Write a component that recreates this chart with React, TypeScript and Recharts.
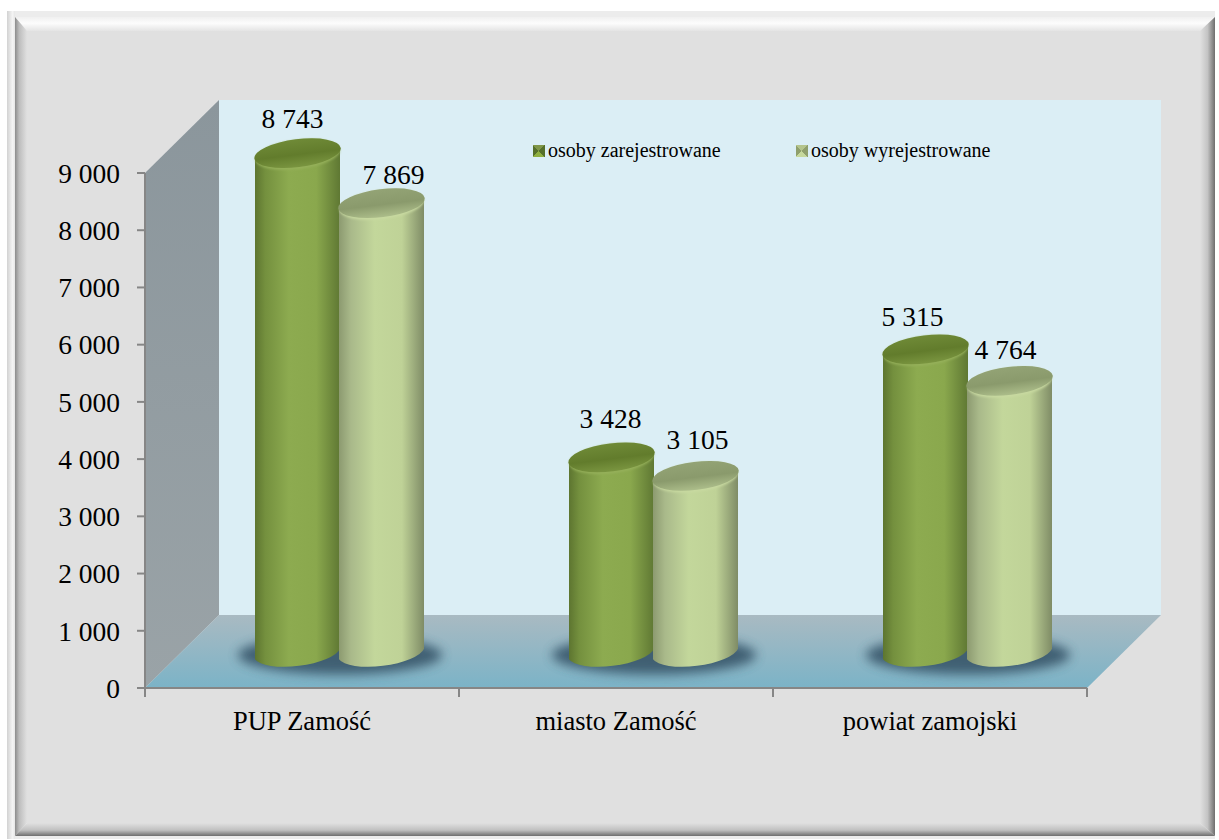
import { Bar, BarChart, LabelList, Legend, XAxis, YAxis } from "recharts";

const categories = ["PUP Zamość", "miasto Zamość", "powiat zamojski"];
const zarejestrowane = [8743, 3428, 5315];
const wyrejestrowane = [7869, 3105, 4764];
const yTicks = [0, 1000, 2000, 3000, 4000, 5000, 6000, 7000, 8000, 9000];

const rows = categories.map((name, i) => ({ name, zarejestrowane: zarejestrowane[i], wyrejestrowane: wyrejestrowane[i] }));

const FONT = "'Liberation Serif', 'Times New Roman', serif";
const AXIS = "#868686";
// plot box of the axis plane
const PLOT = { x: 145, y: 173, width: 942, height: 515 };
// how far the back wall sits behind the axis plane
const DEPTH_X = 74;
const DEPTH_Y = 73;
// the cylinders stand half way to the back wall
const MID_X = 37;
const MID_Y = 34;
const RY = 14.5;
const TILT = -7;

const fmt = (v: number) => String(v).replace(/\B(?=(\d{3})+$)/g, " ");

function Frame() {
  const { x, y, width, height } = PLOT;
  const bottom = y + height;
  const right = x + width;
  return (
    <svg width={1219} height={840} style={{ position: "absolute", left: 0, top: 0 }}>
      <defs>
        <linearGradient id="rimL" x1="0" y1="0" x2="1" y2="0">
          <stop offset="0" stopColor="#d2d2d2" />
          <stop offset="0.7" stopColor="#f4f4f4" />
          <stop offset="1" stopColor="#e6e6e6" />
        </linearGradient>
        <linearGradient id="bevT" x1="0" y1="0" x2="0" y2="1">
          <stop offset="0" stopColor="#f0f0f0" />
          <stop offset="0.45" stopColor="#fcfcfc" />
          <stop offset="1" stopColor="#e4e4e4" />
        </linearGradient>
        <linearGradient id="bevL" x1="0" y1="0" x2="1" y2="0">
          <stop offset="0" stopColor="#8c8c8c" />
          <stop offset="0.35" stopColor="#bdbdbd" />
          <stop offset="1" stopColor="#e0e0e0" />
        </linearGradient>
        <linearGradient id="bevR" x1="0" y1="0" x2="1" y2="0">
          <stop offset="0" stopColor="#e0e0e0" />
          <stop offset="0.5" stopColor="#c4c4c4" />
          <stop offset="1" stopColor="#6e6e6e" />
        </linearGradient>
        <linearGradient id="bevB" x1="0" y1="0" x2="0" y2="1">
          <stop offset="0" stopColor="#e0e0e0" />
          <stop offset="0.55" stopColor="#c0c0c0" />
          <stop offset="1" stopColor="#6e6e6e" />
        </linearGradient>
        <linearGradient id="sideWall" x1="0" y1="0" x2="0" y2="1">
          <stop offset="0" stopColor="#8b969c" />
          <stop offset="1" stopColor="#9aa3a7" />
        </linearGradient>
        <linearGradient id="floor" x1="0" y1="0" x2="0" y2="1">
          <stop offset="0" stopColor="#a9bac2" />
          <stop offset="1" stopColor="#7bb3c7" />
        </linearGradient>
      </defs>
      <rect x={7} y={11} width={1208} height={828} fill="#ececec" />
      <rect x={7} y={11} width={8} height={828} fill="url(#rimL)" />
      <polygon points="15,17 1215,17 1200,31 27,31" fill="url(#bevT)" />
      <polygon points="15,17 27,31 27,823 15,836" fill="url(#bevL)" />
      <polygon points="1215,17 1200,31 1200,823 1215,836" fill="url(#bevR)" />
      <polygon points="15,836 27,823 1200,823 1215,836" fill="url(#bevB)" />
      <rect x={27} y={31} width={1173} height={792} fill="#e0e0e0" />
      <rect x={x + DEPTH_X} y={y - DEPTH_Y} width={width} height={height} fill="#dbeef5" />
      <polygon
        points={`${x},${y} ${x + DEPTH_X},${y - DEPTH_Y} ${x + DEPTH_X},${bottom - DEPTH_Y} ${x},${bottom}`}
        fill="url(#sideWall)"
      />
      <polygon
        points={`${x},${bottom} ${x + DEPTH_X},${bottom - DEPTH_Y} ${right + DEPTH_X},${bottom - DEPTH_Y} ${right},${bottom}`}
        fill="url(#floor)"
      />
    </svg>
  );
}

// drawn as the first series' background so it lies under both cylinders
function PairShadow({ x, y, width, height }: any) {
  const cx = x + width + MID_X;
  const cy = y + height - MID_Y + 1;
  return <ellipse cx={cx} cy={cy} rx={width + 17} ry={RY + 5} fill="#37566b" opacity={0.9} filter="url(#soft)" />;
}

function Cylinder({ x, y, width, height, body, lid, rim }: any) {
  const rx = width / 2 + 1;
  const left = x + MID_X;
  const right = left + width;
  const top = y - MID_Y;
  const base = y + height - MID_Y;
  const cx = left + width / 2;
  const lift = (width / 2) * Math.tan((-TILT * Math.PI) / 180);
  const d = [
    `M${left},${top + lift}`,
    `L${left},${base + lift}`,
    `A${rx},${RY} ${TILT} 0 0 ${right},${base - lift}`,
    `L${right},${top - lift}`,
    `A${rx},${RY} ${TILT} 0 0 ${left},${top + lift}`,
    "Z",
  ].join(" ");
  return (
    <g>
      <path d={d} fill={`url(#${body})`} />
      <ellipse cx={cx} cy={top + 1} rx={rx - 1} ry={RY} transform={`rotate(${TILT} ${cx} ${top})`} fill={rim} filter="url(#rimSoft)" />
      <ellipse cx={cx} cy={top - 0.5} rx={rx} ry={RY - 0.5} transform={`rotate(${TILT} ${cx} ${top - 1})`} fill={`url(#${lid})`} />
    </g>
  );
}

const darkBar = (p: any) => <Cylinder {...p} body="darkBody" lid="darkLid" rim="#95b05a" />;
const lightBar = (p: any) => <Cylinder {...p} body="lightBody" lid="lightLid" rim="#c8d9a0" />;

// hand-placed labels in the original, pulled a little off the bar centres
const NUDGE_A = [[-5, -12], [-1, -16], [-13, -10]];
const NUDGE_B = [[12, -6], [2, -13], [-4, -8]];

function valueLabel(nudges: number[][]) {
  return ({ x, y, width, value, index }: any) => (
    <text
      x={x + MID_X + width / 2 + nudges[index][0]}
      y={y - MID_Y - 14 + nudges[index][1]}
      textAnchor="middle"
      fontFamily={FONT}
      fontSize={27.5}
      fill="#000"
    >
      {fmt(value)}
    </text>
  );
}

// tick marks fall on the category boundaries, labels between them
function CategoryTick({ x, y, payload, index }: any) {
  const step = PLOT.width / categories.length;
  const mark = (at: number) => <line x1={at} x2={at} y1={y - 8} y2={y + 1} stroke={AXIS} strokeWidth={2} />;
  return (
    <g>
      {mark(x - step / 2)}
      {index === categories.length - 1 && mark(x + step / 2)}
      <text x={x} y={y + 34} textAnchor="middle" fontFamily={FONT} fontSize={26.5} fill="#000">
        {payload.value}
      </text>
    </g>
  );
}

function LegendRow({ payload }: any) {
  return (
    <div style={{ position: "relative", height: 24, fontFamily: FONT, fontSize: 20, color: "#000", lineHeight: "24px" }}>
      {(payload || []).map((item: any, i: number) => (
        <div key={item.value} style={{ position: "absolute", left: i * 263, top: 0, whiteSpace: "nowrap" }}>
          <span
            style={{
              display: "inline-block",
              width: 12,
              height: 12,
              marginRight: 3,
              background:
                i === 0
                  ? "conic-gradient(from 45deg, #55702a 0 25%, #8fb040 0 50%, #55702a 0 75%, #7f9648 0)"
                  : "conic-gradient(from 45deg, #8f9f6c 0 25%, #c6d89c 0 50%, #8f9f6c 0 75%, #b4c48c 0)",
            }}
          />
          {item.value}
        </div>
      ))}
    </div>
  );
}

export default function App() {
  return (
    <div style={{ position: "absolute", left: 0, top: 0, width: 1219, height: 840 }}>
      <Frame />
      <BarChart
        width={1219}
        height={840}
        data={rows}
        margin={{ top: PLOT.y - 24, right: 1219 - PLOT.x - PLOT.width, bottom: 840 - PLOT.y - PLOT.height - 30, left: 0 }}
        barSize={85}
        barGap={-1}
        style={{ position: "absolute", left: 0, top: 0 }}
      >
        <defs>
          <linearGradient id="darkBody" x1="0" y1="0" x2="1" y2="0">
            <stop offset="0" stopColor="#5d7530" />
            <stop offset="0.12" stopColor="#74903e" />
            <stop offset="0.4" stopColor="#8dab50" />
            <stop offset="0.72" stopColor="#8aa84d" />
            <stop offset="1" stopColor="#5f7833" />
          </linearGradient>
          <linearGradient id="lightBody" x1="0" y1="0" x2="1" y2="0">
            <stop offset="0" stopColor="#8c9a70" />
            <stop offset="0.14" stopColor="#a9b98a" />
            <stop offset="0.42" stopColor="#c3d79b" />
            <stop offset="0.74" stopColor="#bfd297" />
            <stop offset="1" stopColor="#7f8c66" />
          </linearGradient>
          <linearGradient id="darkLid" x1="0" y1="0" x2="0" y2="1">
            <stop offset="0" stopColor="#6f8a37" />
            <stop offset="0.55" stopColor="#627c2c" />
            <stop offset="1" stopColor="#7a9540" />
          </linearGradient>
          <linearGradient id="lightLid" x1="0" y1="0" x2="0" y2="1">
            <stop offset="0" stopColor="#93a375" />
            <stop offset="0.55" stopColor="#8a9a6c" />
            <stop offset="1" stopColor="#acbd8a" />
          </linearGradient>
          <filter id="soft" x="-30%" y="-80%" width="160%" height="260%">
            <feGaussianBlur stdDeviation="5.5" />
          </filter>
          <filter id="rimSoft" x="-10%" y="-20%" width="120%" height="140%">
            <feGaussianBlur stdDeviation="1" />
          </filter>
        </defs>
        <XAxis
          dataKey="name"
          interval={0}
          axisLine={{ stroke: AXIS, strokeWidth: 2 }}
          tickLine={false}
          tick={<CategoryTick />}
        />
        <YAxis
          domain={[0, 9000]}
          ticks={yTicks}
          tickFormatter={fmt}
          axisLine={{ stroke: AXIS, strokeWidth: 2 }}
          tickLine={{ stroke: AXIS, strokeWidth: 2 }}
          tickSize={8}
          tickMargin={17}
          width={PLOT.x}
          tick={{ fontFamily: FONT, fontSize: 27.5, fill: "#000" }}
        />
        <Legend
          verticalAlign="top"
          itemSorter={null}
          content={<LegendRow />}
          wrapperStyle={{ position: "absolute", left: 533, top: 138, width: 520, height: 24 }}
        />
        <Bar dataKey="zarejestrowane" name="osoby zarejestrowane" isAnimationActive={false} shape={darkBar} background={<PairShadow />}>
          <LabelList dataKey="zarejestrowane" content={valueLabel(NUDGE_A)} />
        </Bar>
        <Bar dataKey="wyrejestrowane" name="osoby wyrejestrowane" isAnimationActive={false} shape={lightBar}>
          <LabelList dataKey="wyrejestrowane" content={valueLabel(NUDGE_B)} />
        </Bar>
      </BarChart>
    </div>
  );
}
